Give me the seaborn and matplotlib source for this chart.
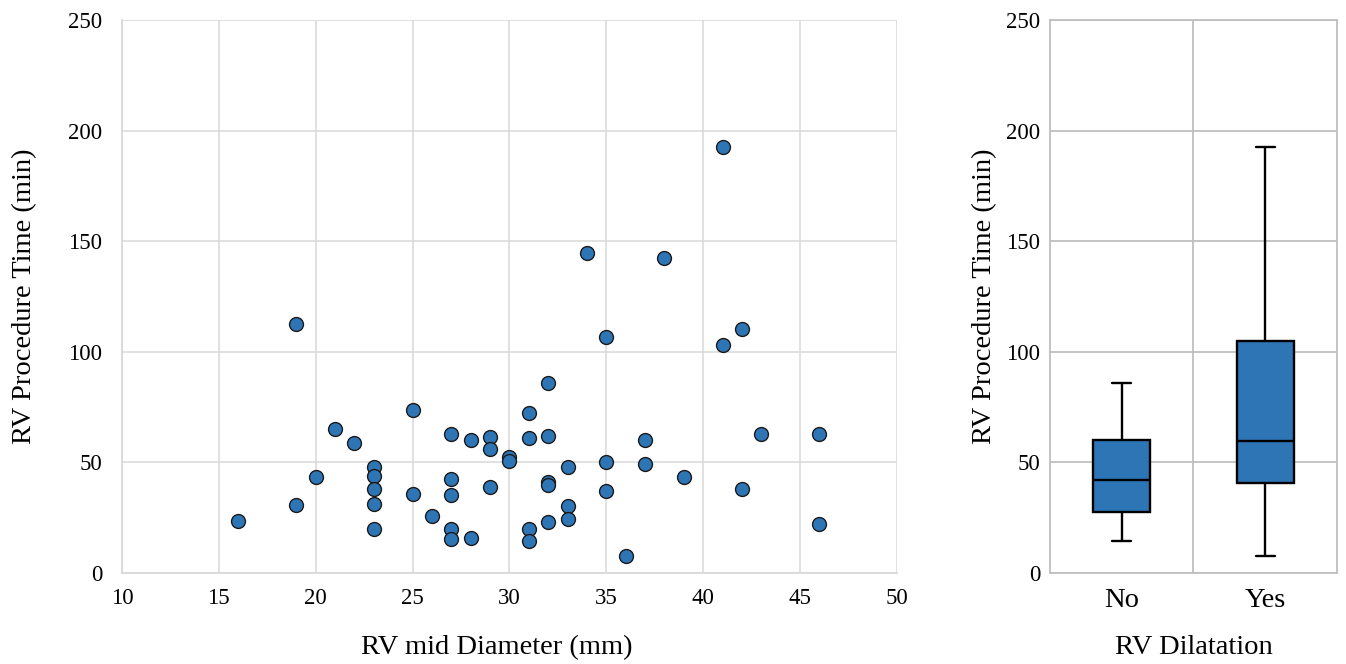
import matplotlib
matplotlib.use("Agg")
import matplotlib.pyplot as plt
import seaborn as sns
import pandas as pd
import numpy as np

# ---- data ----
rv_mid_diameter = [16, 19, 19, 20, 21, 22, 23, 23, 23, 23, 23, 25, 25, 26,
                   27, 27, 27, 27, 27, 28, 28, 29, 29, 29, 30, 30,
                   31, 31, 31, 31, 32, 32, 32, 32, 32, 33, 33, 33, 34,
                   35, 35, 35, 36, 37, 37, 38, 39, 41, 41, 42, 42, 43, 46, 46]
rv_procedure_time = [23.6, 30.6, 112.6, 43.5, 65.1, 58.9, 48.0, 43.8, 37.8, 31.2, 19.7, 73.7, 35.6, 25.6,
                     62.8, 42.3, 35.1, 19.7, 15.2, 60.1, 15.8, 61.3, 56.1, 38.9, 52.6, 50.7,
                     72.5, 60.9, 19.9, 14.6, 86.0, 61.8, 41.3, 39.9, 22.9, 48.1, 30.4, 24.5, 144.7,
                     106.6, 50.2, 37.2, 7.7, 60.0, 49.1, 142.4, 43.4, 192.7, 102.9, 110.4, 38.1, 63.0, 63.0, 22.3]

dilatation_groups = ["No", "Yes"]
# five-number summaries (min, Q1, median, Q3, max)
no_summary = [14.5, 27.7, 42.0, 60.1, 86.1]
yes_summary = [7.5, 40.5, 59.7, 104.7, 192.5]

x_ticks = [10, 15, 20, 25, 30, 35, 40, 45, 50]
y_ticks = [0, 50, 100, 150, 200, 250]

BLUE = "#2E75B6"
GRID_L = "#d9d9d9"
GRID_R = "#bfbfbf"

sns.set_theme(style="white")
plt.rcParams["font.family"] = ["Liberation Serif", "DejaVu Serif"]
plt.rcParams["axes.labelcolor"] = "black"
plt.rcParams["text.color"] = "black"

fig = plt.figure(figsize=(13.46, 6.64), dpi=100)
ax1 = fig.add_axes([0.0906, 0.1370, 0.5758, 0.8328])
ax2 = fig.add_axes([0.7801, 0.1370, 0.2132, 0.8328])

# ---- scatter ----
scatter_df = pd.DataFrame({"d": rv_mid_diameter, "t": rv_procedure_time})
sns.scatterplot(data=scatter_df, x="d", y="t", ax=ax1, s=100, color=BLUE,
                edgecolor="#1a1a1a", linewidth=1.0, zorder=3)
ax1.set_xlim(10, 50)
ax1.set_ylim(0, 250)
ax1.set_xticks(x_ticks)
ax1.set_yticks(y_ticks)
ax1.grid(True, color=GRID_L, linewidth=1.1)
ax1.set_axisbelow(True)
for s in ["top", "right"]:
    ax1.spines[s].set_visible(False)
for s in ["left", "bottom"]:
    ax1.spines[s].set_color(GRID_L)
    ax1.spines[s].set_linewidth(1.3)
ax1.tick_params(axis="both", length=0, labelsize=16.5, colors="#000000")
ax1.tick_params(axis="x", pad=11)
ax1.tick_params(axis="y", pad=14)
ax1.set_xlabel("RV mid Diameter (mm)", fontsize=20.5, color="black")
ax1.xaxis.set_label_coords(0.483, -0.112)
ax1.set_ylabel("RV Procedure Time (min)", fontsize=20.5, color="black")
ax1.yaxis.set_label_coords(-0.109, 0.5)

# ---- box plot ----
box_df = pd.DataFrame({
    "group": [dilatation_groups[0]] * len(no_summary) + [dilatation_groups[1]] * len(yes_summary),
    "time": no_summary + yes_summary,
})
sns.boxplot(data=box_df, x="group", y="time", order=dilatation_groups, ax=ax2,
            whis=(0, 100), width=0.4, color=BLUE, linecolor="black",
            linewidth=1.7, saturation=1, capwidths=0.13, zorder=3)
ax2.set_xlim(-0.5, 1.5)
ax2.set_ylim(0, 250)
ax2.set_yticks(y_ticks)
ax2.set_xticks([0.5], minor=True)
ax2.grid(True, axis="y", color=GRID_R, linewidth=1.3)
ax2.grid(True, axis="x", which="minor", color=GRID_R, linewidth=1.3)
ax2.grid(False, axis="x", which="major")
ax2.set_axisbelow(True)
for s in ["top", "right", "left", "bottom"]:
    ax2.spines[s].set_visible(True)
    ax2.spines[s].set_color(GRID_R)
    ax2.spines[s].set_linewidth(1.3)
ax2.tick_params(axis="both", which="both", length=0, colors="#000000")
ax2.tick_params(axis="y", labelsize=16.5, pad=7)
ax2.tick_params(axis="x", labelsize=20.5, pad=11)
ax2.set_xlabel("RV Dilatation", fontsize=20.5, color="black")
ax2.xaxis.set_label_coords(0.5, -0.112)
ax2.set_ylabel("RV Procedure Time (min)", fontsize=20.5, color="black")
ax2.yaxis.set_label_coords(-0.183, 0.5)

fig.savefig("out.png", dpi=100, facecolor="white")
